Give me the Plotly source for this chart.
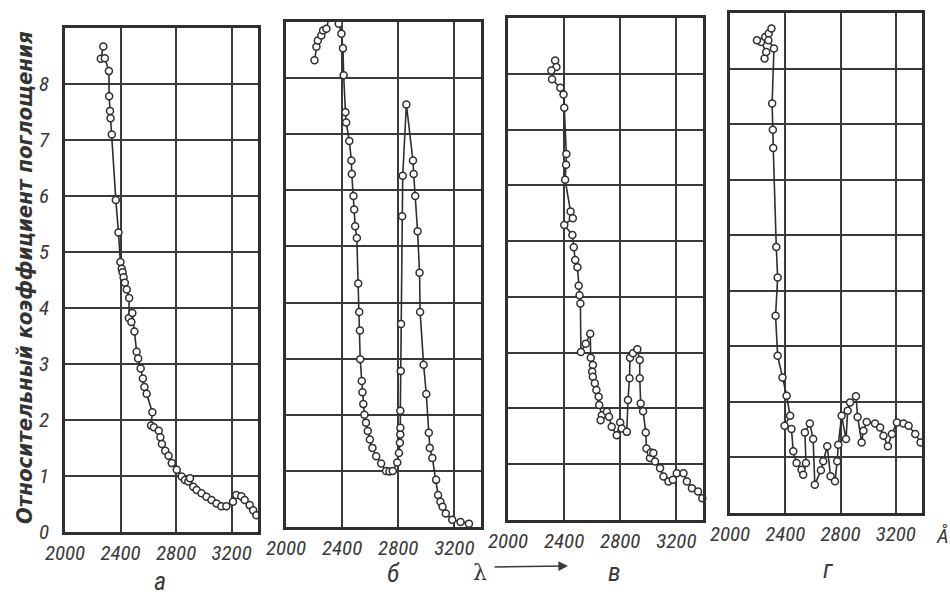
import plotly.graph_objects as go

# ---------------- data ----------------
x_tick_vals = [2000, 2400, 2800, 3200]
x_tick_text = ["2000", "2400", "2800", "3200"]
y_tick_vals = [0, 1, 2, 3, 4, 5, 6, 7, 8]
y_tick_text = ["0", "1", "2", "3", "4", "5", "6", "7", "8"]
panel_letters = ["а", "б", "в", "г"]
y_title = "Относительный коэффициент поглощения"
x_unit = "Å"
x_symbol = "λ"

# panel а
wl_a = [2276, 2258, 2287, 2316, 2318, 2324, 2328, 2337, 2366, 2385, 2399, 2409, 2415,
        2422, 2431, 2445, 2462, 2460, 2478, 2485, 2500, 2516, 2527, 2545, 2561, 2572,
        2588, 2629, 2620, 2640, 2675, 2687, 2698, 2722, 2746, 2769, 2805, 2840, 2864,
        2888, 2900, 2924, 2948, 2983, 3019, 3055, 3091, 3126, 3162, 3210, 3234, 3270,
        3294, 3330, 3355, 3378]
k_a = [8.67, 8.45, 8.46, 8.23, 7.78, 7.52, 7.39, 7.10, 5.93, 5.35, 4.82, 4.70, 4.64,
       4.55, 4.45, 4.33, 4.18, 3.82, 3.75, 3.91, 3.58, 3.22, 3.10, 2.92, 2.74, 2.59,
       2.47, 2.14, 1.90, 1.87, 1.81, 1.69, 1.57, 1.45, 1.36, 1.23, 1.11, 0.99, 0.93,
       0.90, 0.96, 0.81, 0.75, 0.69, 0.63, 0.57, 0.51, 0.46, 0.46, 0.54, 0.66, 0.64,
       0.57, 0.48, 0.39, 0.30]

# panel б
wl_b = [2203, 2217, 2227, 2252, 2264, 2288, 2302, 2316, 2340, 2364, 2376, 2395, 2406,
        2411, 2424, 2429, 2451, 2466, 2469, 2481, 2486, 2493, 2505, 2515, 2522, 2527,
        2529, 2540, 2545, 2551, 2559, 2570, 2583, 2598, 2616, 2643, 2678, 2713, 2737,
        2761, 2793, 2805, 2812, 2815, 2815, 2815, 2818, 2820, 2828, 2832, 2858, 2905,
        2910, 2921, 2938, 2952, 2956, 2981, 3000, 3018, 3025, 3043, 3070, 3084, 3101,
        3116, 3139, 3185, 3244, 3304]
k_b = [8.32, 8.56, 8.67, 8.76, 8.85, 8.88, 9.03, 9.18, 9.21, 9.12, 8.97, 8.79, 8.53,
       8.05, 7.39, 7.21, 6.88, 6.53, 6.29, 5.90, 5.66, 5.36, 5.15, 4.34, 3.83, 3.50,
       2.99, 2.60, 2.40, 2.19, 2.00, 1.86, 1.71, 1.56, 1.41, 1.26, 1.13, 1.00, 0.99,
       1.00, 1.15, 1.32, 1.50, 1.65, 1.77, 2.07, 2.78, 3.62, 5.54, 6.26, 7.53, 6.53,
       6.29, 5.90, 5.27, 4.53, 3.83, 2.89, 2.37, 1.68, 1.41, 1.23, 0.84, 0.57, 0.45,
       0.36, 0.24, 0.13, 0.09, 0.06]

# panel в
wl_v = [2336, 2345, 2309, 2314, 2373, 2396, 2401, 2416, 2414, 2407, 2446, 2462, 2401,
        2459, 2469, 2479, 2495, 2504, 2510, 2516, 2520, 2554, 2586, 2590, 2605, 2600,
        2605, 2619, 2630, 2646, 2650, 2669, 2660, 2705, 2720, 2739, 2775, 2800, 2811,
        2847, 2855, 2866, 2870, 2891, 2922, 2939, 2939, 2946, 2963, 2982, 2987, 3012,
        3018, 3036, 3048, 3084, 3108, 3144, 3175, 3203, 3251, 3275, 3311, 3355, 3385]
k_v = [8.24, 8.12, 8.06, 7.90, 7.75, 7.63, 7.39, 6.56, 6.37, 6.10, 5.53, 5.41, 5.29,
       5.11, 4.89, 4.66, 4.53, 4.20, 4.03, 3.88, 3.01, 3.16, 3.34, 2.91, 2.78, 2.66,
       2.57, 2.45, 2.33, 2.21, 2.06, 1.88, 1.79, 1.94, 1.85, 1.67, 1.52, 1.75, 1.64,
       1.58, 2.15, 2.54, 2.91, 2.99, 3.06, 2.87, 2.54, 2.09, 1.95, 1.57, 1.28, 1.11,
       1.21, 1.20, 1.05, 0.93, 0.78, 0.69, 0.72, 0.84, 0.84, 0.69, 0.57, 0.51, 0.39]

# panel г
wl_g = [2250, 2262, 2225, 2195, 2255, 2280, 2300, 2278, 2318, 2305, 2310, 2313, 2335,
        2345, 2330, 2345, 2380, 2410, 2435, 2395, 2445, 2458, 2482, 2518, 2530, 2550,
        2542, 2578, 2602, 2614, 2658, 2675, 2704, 2728, 2760, 2776, 2784, 2808, 2840,
        2852, 2869, 2912, 2924, 2953, 2966, 2990, 3050, 3087, 3111, 3143, 3172, 3208,
        3256, 3293, 3341, 3380]
k_g = [8.18, 8.30, 8.48, 8.51, 8.57, 8.63, 8.72, 8.51, 8.36, 7.37, 6.90, 6.57, 4.79,
       4.24, 3.55, 2.83, 2.44, 2.11, 1.75, 1.57, 1.51, 1.11, 0.90, 0.78, 0.69, 0.90,
       1.45, 1.61, 1.33, 0.51, 0.77, 0.93, 1.20, 0.66, 0.57, 0.93, 1.23, 1.75, 1.33,
       1.84, 1.99, 2.10, 1.73, 1.27, 1.48, 1.64, 1.61, 1.54, 1.39, 1.20, 1.42, 1.63,
       1.61, 1.57, 1.42, 1.27]

series = [(wl_a, k_a), (wl_b, k_b), (wl_v, k_v), (wl_g, k_g)]

# ---------------- layout ----------------
W, H = 950, 595
# panel boxes in pixels: (left, right, top, bottom)
boxes = [(65, 258, 28, 532), (286, 481, 22, 527), (508, 703, 18, 520), (730, 922, 13, 513)]
letter_pos = [(160, 581), (393, 573), (614, 572), (828, 569)]

INK = "#2f2f2f"
GRID = "#3a3a3a"
FONT = "Liberation Sans Narrow, Roboto Condensed, DejaVu Sans Condensed, DejaVu Sans, sans-serif"
tick_font = dict(family=FONT, size=21, color="#3a3a3a", style="italic")

fig = go.Figure()
layout = dict(width=W, height=H, margin=dict(l=0, r=0, t=0, b=0, autoexpand=False),
              paper_bgcolor="white", plot_bgcolor="white", showlegend=False)

for i, ((wl, k), (l, r, t, b)) in enumerate(zip(series, boxes)):
    n = "" if i == 0 else str(i + 1)
    fig.add_trace(go.Scatter(
        x=wl, y=k, mode="lines+markers", cliponaxis=False,
        xaxis="x" + n, yaxis="y" + n,
        line=dict(color=INK, width=1.6),
        marker=dict(symbol="circle", size=7, color="white",
                    line=dict(color=INK, width=1.5)),
    ))
    layout["xaxis" + n] = dict(
        domain=[l / W, r / W], range=[2000, 3390], anchor="y" + n,
        tickmode="array", tickvals=x_tick_vals, ticktext=x_tick_text,
        showgrid=True, gridcolor=GRID, gridwidth=1.9,
        showline=True, mirror=True, linecolor=INK, linewidth=2.6,
        zeroline=False, ticks="", tickfont=tick_font, ticklabelstandoff=0,
        automargin=False, fixedrange=True)
    layout["yaxis" + n] = dict(
        domain=[1 - b / H, 1 - t / H], range=[0, 9], anchor="x" + n,
        tickmode="array", tickvals=y_tick_vals,
        ticktext=y_tick_text if i == 0 else [""] * len(y_tick_vals),
        showticklabels=(i == 0),
        showgrid=True, gridcolor=GRID, gridwidth=1.9,
        showline=True, mirror=True, linecolor=INK, linewidth=2.6,
        zeroline=False, ticks="", tickfont=tick_font, ticklabelstandoff=9,
        automargin=False, fixedrange=True)

fig.update_layout(**layout)

ann_font = dict(family=FONT, size=26, color="#3a3a3a", style="italic")
for letter, (px, py) in zip(panel_letters, letter_pos):
    fig.add_annotation(x=px / W, y=1 - py / H, xref="paper", yref="paper",
                       xanchor="center", yanchor="middle",
                       text=letter, showarrow=False, font=ann_font)

# lambda with arrow
fig.add_annotation(x=480 / W, y=1 - 572 / H, xref="paper", yref="paper",
                   xanchor="center", yanchor="middle",
                   text=x_symbol, showarrow=False,
                   font=dict(family="DejaVu Serif, serif", size=22, color="#3a3a3a"))
fig.add_annotation(x=568 / W, y=1 - 566 / H, xref="paper", yref="paper",
                   ax=-75, ay=1, axref="pixel", ayref="pixel", text="",
                   showarrow=True, arrowhead=2, arrowsize=1.2, arrowwidth=1.6,
                   arrowcolor="#3a3a3a")
# unit
fig.add_annotation(x=942 / W, y=1 - 536 / H, xref="paper", yref="paper",
                   xanchor="center", yanchor="middle",
                   text=x_unit, showarrow=False, font=tick_font)

# y-axis title
fig.add_annotation(x=24 / W, y=1 - 278 / H, xref="paper", yref="paper",
                   xanchor="center", yanchor="middle",
                   text=y_title, textangle=-90, showarrow=False,
                   font=dict(family="DejaVu Sans Condensed, DejaVu Sans, sans-serif", size=22,
                             color="#333333", style="italic", weight="bold"))

# remove the default page margin so the figure sits at the window's top-left corner
fig.write_html("out.html", config={"displayModeBar": False},
               post_script="document.body.style.margin='0';document.body.style.padding='0';")
